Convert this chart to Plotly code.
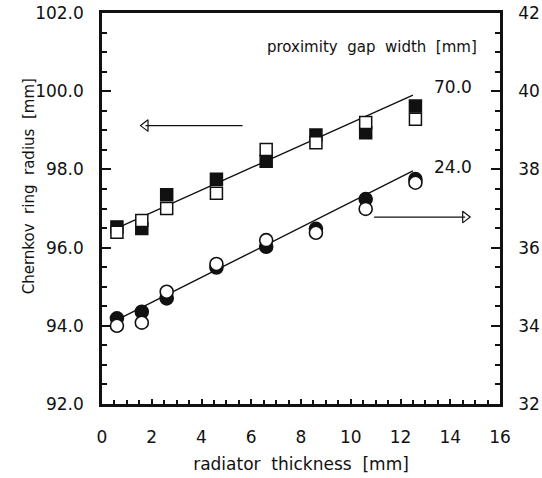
import plotly.graph_objects as go

# radiator thickness [mm]
thickness = [0.6, 1.6, 2.6, 4.6, 6.6, 8.6, 10.6, 12.6]

# ring radius [mm], proximity gap 70.0 mm (left axis)
gap70_filled = [96.53, 96.49, 97.35, 97.75, 98.21, 98.88, 98.94, 99.62]
gap70_open = [96.39, 96.69, 97.00, 97.39, 98.51, 98.68, 99.20, 99.28]

# ring radius [mm], proximity gap 24.0 mm (right axis)
gap24_filled = [34.19, 34.36, 34.70, 35.49, 36.02, 36.48, 37.24, 37.75]
gap24_open = [34.00, 34.08, 34.87, 35.58, 36.19, 36.38, 36.99, 37.66]

# straight-line fits
fit_x = [0.6, 12.5]
fit70_y = [96.50, 99.90]
fit24_y = [34.15, 37.96]

left_ticks = [92, 94, 96, 98, 100, 102]
right_ticks = [32, 34, 36, 38, 40, 42]
x_ticks = [0, 2, 4, 6, 8, 10, 12, 14, 16]

FONT = "DejaVu Sans"
BLACK = "#111111"

fig = go.Figure()

# fitted lines
fig.add_trace(go.Scatter(x=fit_x, y=fit70_y, mode="lines",
                         line=dict(color=BLACK, width=1.4), yaxis="y"))
fig.add_trace(go.Scatter(x=fit_x, y=fit24_y, mode="lines",
                         line=dict(color=BLACK, width=1.4), yaxis="y2"))

# markers: filled below, open (white) on top
mk = dict(size=12, line=dict(color=BLACK, width=1.5))
fig.add_trace(go.Scatter(x=thickness, y=gap70_filled, mode="markers", yaxis="y",
                         marker=dict(symbol="square", color=BLACK, **mk)))
fig.add_trace(go.Scatter(x=thickness, y=gap70_open, mode="markers", yaxis="y",
                         marker=dict(symbol="square", color="white", **mk)))
mc = dict(size=13, line=dict(color=BLACK, width=1.6))
fig.add_trace(go.Scatter(x=thickness, y=gap24_filled, mode="markers", yaxis="y2",
                         marker=dict(symbol="circle", color=BLACK, **mc)))
fig.add_trace(go.Scatter(x=thickness, y=gap24_open, mode="markers", yaxis="y2",
                         marker=dict(symbol="circle", color="white", **mc)))

# axis-pointer arrows (open heads)
left_arrow = dict(x0=5.65, x1=1.75, y=99.12)
right_arrow = dict(x0=10.94, x1=14.6, y=36.78)
fig.add_shape(type="line", xref="x", yref="y", x0=left_arrow["x0"], x1=left_arrow["x1"],
              y0=left_arrow["y"], y1=left_arrow["y"], line=dict(color=BLACK, width=1.2))
fig.add_shape(type="line", xref="x", yref="y2", x0=right_arrow["x0"], x1=right_arrow["x1"],
              y0=right_arrow["y"], y1=right_arrow["y"], line=dict(color=BLACK, width=1.2))
fig.add_trace(go.Scatter(x=[left_arrow["x1"]], y=[left_arrow["y"]], mode="markers", yaxis="y",
                         marker=dict(symbol="triangle-left", size=10, color="white",
                                     line=dict(color=BLACK, width=1.2))))
fig.add_trace(go.Scatter(x=[right_arrow["x1"]], y=[right_arrow["y"]], mode="markers", yaxis="y2",
                         marker=dict(symbol="triangle-right", size=10, color="white",
                                     line=dict(color=BLACK, width=1.2))))

# labels
fig.add_annotation(x=10.85, y=101.12, xref="x", yref="y", text="proximity  gap  width  [mm]",
                   showarrow=False, font=dict(family=FONT, size=15, color=BLACK))
fig.add_annotation(x=14.1, y=100.1, xref="x", yref="y", text="70.0",
                   showarrow=False, font=dict(family=FONT, size=17, color=BLACK))
fig.add_annotation(x=14.1, y=98.05, xref="x", yref="y", text="24.0",
                   showarrow=False, font=dict(family=FONT, size=17, color=BLACK))
fig.add_annotation(x=-0.2125, y=0.558, xref="paper", yref="paper",
                   text="Chernkov  ring  radius  [mm]", textangle=-90,
                   showarrow=False, font=dict(family=FONT, size=15, color=BLACK))

axis_common = dict(showgrid=False, zeroline=False, showline=True, linecolor=BLACK,
                   linewidth=2.5, ticks="inside", tickcolor=BLACK, tickwidth=2,
                   automargin=False,
                   tickfont=dict(family=FONT, size=17, color=BLACK))

fig.update_layout(
    width=542, height=478,
    margin=dict(l=102, r=42, t=13, b=74),
    paper_bgcolor="white", plot_bgcolor="white",
    showlegend=False,
    xaxis=dict(range=[0, 16], tickvals=x_ticks, ticklen=5, mirror=True,
               minor=dict(dtick=0.5, ticklen=4, ticks="inside", tickcolor=BLACK, tickwidth=1.5),
               title=dict(text="radiator  thickness  [mm]", standoff=12,
                          font=dict(family=FONT, size=17, color=BLACK)),
               ticklabelstandoff=16,
               **axis_common),
    yaxis=dict(range=[92, 102], tickvals=left_ticks, tickformat=".1f", ticklen=9,
               minor=dict(dtick=0.5, ticklen=5, ticks="inside", tickcolor=BLACK, tickwidth=2),
               ticklabelstandoff=12,
               **axis_common),
    yaxis2=dict(range=[32, 42], tickvals=right_ticks, ticklen=9, overlaying="y", side="right",
                minor=dict(dtick=0.5, ticklen=5, ticks="inside", tickcolor=BLACK, tickwidth=2),
                ticklabelstandoff=12,
                **axis_common),
)

fig.write_html("out.html")
